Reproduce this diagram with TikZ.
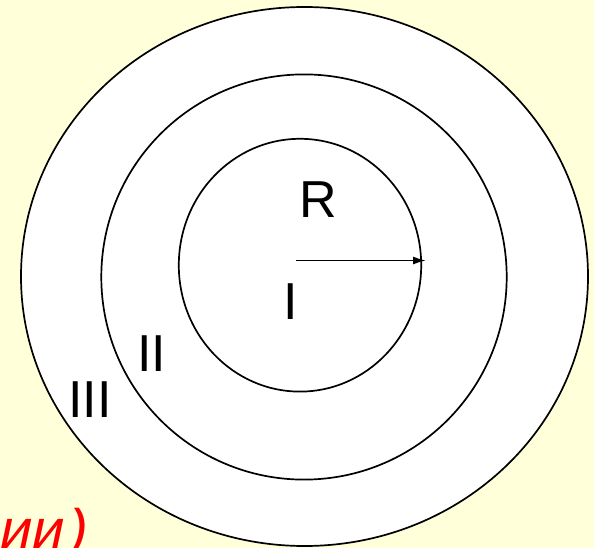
\documentclass[tikz,border=0pt]{standalone}
\usepackage{fontspec}
\setmainfont{Liberation Sans}
\newfontfamily\slantsans[FakeSlant=0.21]{Liberation Sans}
\usetikzlibrary{arrows.meta}
\definecolor{bgyellow}{RGB}{255,255,217}
\begin{document}
\begin{tikzpicture}[x=1pt,y=-1pt,
  ring/.style={draw=black,line width=1.7pt,fill=white},
  lbl/.style={font=\fontsize{52}{52}\selectfont,inner sep=0pt,anchor=base},
  redtxt/.style={font=\slantsans\fontsize{57}{57}\selectfont,text=red,inner sep=0pt,anchor=base east}]
\path[use as bounding box,fill=bgyellow] (0,0) rectangle (594,548);
\begin{scope}
\clip (0,0) rectangle (594,548);
\draw[ring] (304.5,276.5) ellipse [x radius=283.5, y radius=269.5];
\draw[ring] (304,277) ellipse [x radius=202.7, y radius=202.6];
\draw[ring] (300,265.2) ellipse [x radius=121.2, y radius=126.4];
\node[redtxt] (tail) at (85,549.5) {ии\kern5pt)};
\end{scope}
\coordinate (c) at (296,260.5);
\coordinate (e) at (426,260.5);
\draw[line width=1.7pt,-{Latex[length=13pt,width=8pt]}] (c) -- (e);
\node[lbl] (R) at (318,218) {R};
\node[lbl] (I) at (290.5,319) {I};
\node[lbl] (II) at (151.5,371) {II};
\node[lbl] (III) at (90,417) {III};
\end{tikzpicture}
\end{document}
